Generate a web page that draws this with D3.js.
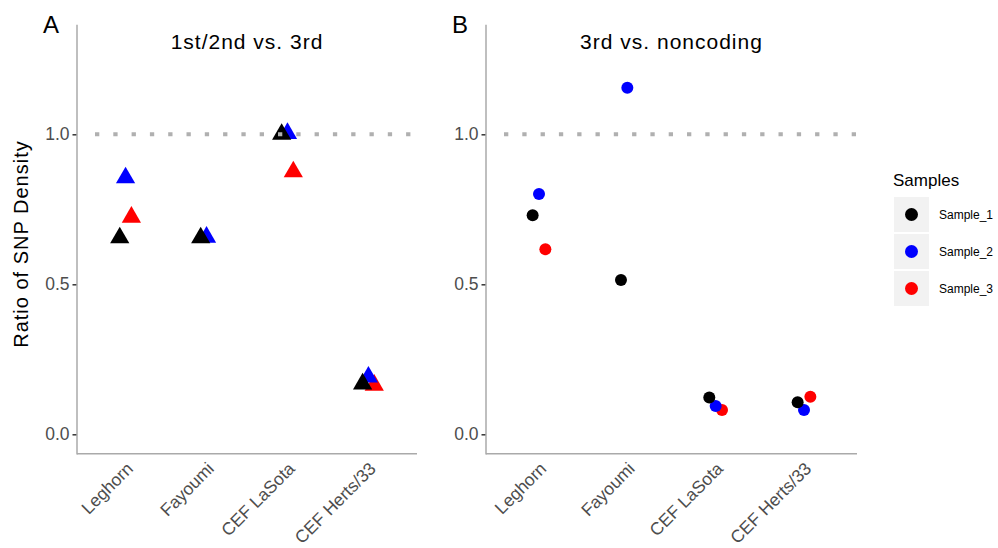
<!DOCTYPE html>
<html>
<head>
<meta charset="utf-8">
<script src="https://cdn.jsdelivr.net/npm/d3@7"></script>
<style>
  html, body { margin: 0; padding: 0; background: #fff; }
  svg { display: block; font-family: "Liberation Sans", Arial, Helvetica, sans-serif; }
</style>
</head>
<body>
<div id="chart"></div>
<script>
/* Two-panel SNP density ratio plot: triangles (A) and dots (B),
 * one colour per sample, dodged a little around each strain. */

var strains = ["Leghorn", "Fayoumi", "CEF LaSota", "CEF Herts/33"];
var samples = ["Sample_1", "Sample_2", "Sample_3"];
var sampleColors = ["#000000", "#0000ff", "#ff0000"];
var yTicks = [0, 0.5, 1.0];

/* Panel A: 1st/2nd vs. 3rd codon position */
var codingS1 = [0.655, 0.655, 1.000, 0.168];
var codingS2 = [0.855, 0.657, 1.003, 0.191];
var codingS3 = [0.724, null, 0.875, 0.164];

/* Panel B: 3rd vs. noncoding */
var noncodS1 = [0.730, 0.514, 0.123, 0.107];
var noncodS2 = [0.801, 1.155, 0.094, 0.081];
var noncodS3 = [0.617, null, 0.081, 0.125];

var W = 998, H = 548;
var svg = d3.select("#chart").append("svg")
  .attr("width", W).attr("height", H)
  .attr("viewBox", "0 0 " + W + " " + H);

/* shared y scale: limits 0..1.3 with 5% expansion */
var y = d3.scaleLinear().domain([-0.065, 1.365]).range([453.8, 24.8]);

var panels = [
  { tag: "A", title: "1st/2nd vs. 3rd", x0: 77, x1: 417, shape: "triangle",
    series: [codingS1, codingS2, codingS3] },
  { tag: "B", title: "3rd vs. noncoding", x0: 486, x1: 857, shape: "circle",
    series: [noncodS1, noncodS2, noncodS3] }
];

var tickColor = "#333333", labelColor = "#4d4d4d", axisColor = "#aaaaaa";

panels.forEach(function (p) {
  var x = d3.scalePoint().domain(strains).range([p.x0, p.x1]).padding(0.6);
  var dodge = x.step() * 0.072;
  var g = svg.append("g");

  /* y axis: ticks + labels, line drawn separately in grey */
  var yAxis = d3.axisLeft(y).tickValues(yTicks).tickFormat(d3.format(".1f"))
    .tickSize(4.5).tickPadding(3);
  var ya = g.append("g").attr("transform", "translate(" + p.x0 + ",0)").call(yAxis);
  ya.select(".domain").remove();
  ya.selectAll(".tick line").attr("stroke", tickColor).attr("stroke-width", 1.5);
  ya.selectAll(".tick text")
    .attr("fill", labelColor)
    .attr("font-size", 17.5)
    .attr("font-family", "'Liberation Sans', Arial, sans-serif");

  /* x axis: no ticks, rotated labels */
  var xa = g.append("g").attr("transform", "translate(0," + y.range()[0] + ")")
    .call(d3.axisBottom(x).tickSize(0).tickPadding(0));
  xa.select(".domain").remove();
  xa.selectAll(".tick text")
    .attr("fill", labelColor)
    .attr("font-size", 17.5)
    .attr("font-family", "'Liberation Sans', Arial, sans-serif")
    .attr("text-anchor", "end")
    .attr("dy", null).attr("y", 0)
    .attr("transform", "translate(8,16) rotate(-45)");

  /* axis lines */
  g.append("line")
    .attr("x1", p.x0).attr("x2", p.x0)
    .attr("y1", y.range()[1]).attr("y2", y.range()[0] + 0.75)
    .attr("stroke", axisColor).attr("stroke-width", 1.5);
  g.append("line")
    .attr("x1", p.x0).attr("x2", p.x1)
    .attr("y1", y.range()[0]).attr("y2", y.range()[0])
    .attr("stroke", axisColor).attr("stroke-width", 1.5);

  /* points: draw Sample_3 first so Sample_1 ends up on top */
  var pts = [];
  for (var s = samples.length - 1; s >= 0; s--) {
    p.series[s].forEach(function (v, i) {
      if (v == null) return;
      pts.push({ strain: strains[i], sample: s, value: v });
    });
  }
  var sym = d3.symbol().type(d3.symbolTriangle).size(160);
  pts.forEach(function (d) {
    var cx = x(d.strain) + (d.sample - 1) * dodge;
    var cy = y(d.value);
    if (p.shape === "triangle") {
      g.append("path")
        .attr("d", sym())
        .attr("transform", "translate(" + cx + "," + cy + ")")
        .attr("fill", sampleColors[d.sample]);
    } else {
      g.append("circle")
        .attr("cx", cx).attr("cy", cy).attr("r", 6)
        .attr("fill", sampleColors[d.sample]);
    }
  });

  /* dotted reference line at 1.0, over the points */
  g.append("line")
    .attr("x1", p.x0 + 18).attr("x2", p.x1)
    .attr("y1", y(1)).attr("y2", y(1))
    .attr("stroke", "#b0b0b0").attr("stroke-width", 4)
    .attr("stroke-dasharray", "4.3 14");

  /* title and panel tag */
  svg.append("text")
    .attr("x", (p.x0 + p.x1) / 2).attr("y", 49)
    .attr("text-anchor", "middle")
    .attr("font-size", 21).attr("letter-spacing", 1)
    .attr("fill", "#000")
    .text(p.title);
  svg.append("text")
    .attr("x", p.x0 - 34).attr("y", 33)
    .attr("font-size", 24)
    .attr("fill", "#000")
    .text(p.tag);
});

/* y axis title */
svg.append("text")
  .attr("transform", "translate(28,244) rotate(-90)")
  .attr("text-anchor", "middle")
  .attr("font-size", 20).attr("letter-spacing", 1)
  .attr("fill", "#000")
  .text("Ratio of SNP Density");

/* legend */
var legend = svg.append("g").attr("transform", "translate(894,197)");
legend.append("text")
  .attr("x", -1).attr("y", -11)
  .attr("font-size", 17)
  .attr("fill", "#000")
  .text("Samples");
samples.forEach(function (s, i) {
  var row = legend.append("g").attr("transform", "translate(0," + (i * 37) + ")");
  row.append("rect")
    .attr("width", 35).attr("height", 35)
    .attr("fill", "#f2f2f2");
  row.append("circle")
    .attr("cx", 17.5).attr("cy", 17.5).attr("r", 6.5)
    .attr("fill", sampleColors[i]);
  row.append("text")
    .attr("x", 45).attr("y", 17.5)
    .attr("dy", "0.35em")
    .attr("font-size", 12)
    .attr("fill", "#000")
    .text(s);
});
</script>
</body>
</html>
